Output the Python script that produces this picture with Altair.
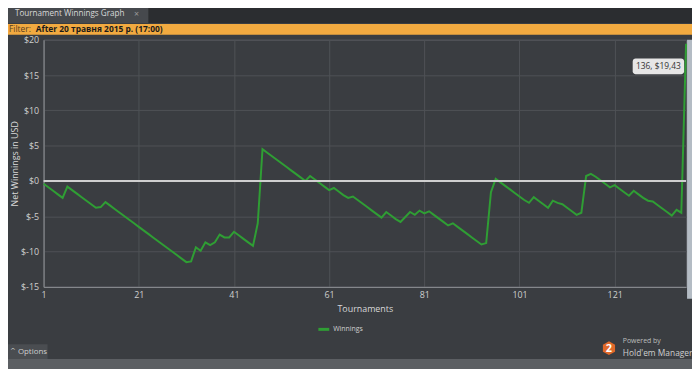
import altair as alt
import pandas as pd

# ---- data ----
tournaments = list(range(1, 137))
winnings = [
    -0.4, -0.9, -1.4, -1.9, -2.4, -0.8, -1.3, -1.8, -2.3, -2.8,
    -3.3, -3.8, -3.7, -3.0, -3.5, -4.0, -4.5, -5.0, -5.5, -6.0,
    -6.5, -7.0, -7.5, -8.0, -8.5, -9.0, -9.5, -10.0, -10.5, -11.0,
    -11.5, -11.4, -9.4, -9.9, -8.7, -9.1, -8.7, -7.6, -8.0, -8.0,
    -7.2, -7.7, -8.2, -8.7, -9.2, -6.0, 4.5, 4.0, 3.5, 3.0,
    2.5, 2.0, 1.5, 1.0, 0.5, 0.0, 0.7, 0.2, -0.3, -0.8,
    -1.3, -1.0, -1.5, -2.0, -2.4, -2.2, -2.7, -3.2, -3.7, -4.2,
    -4.7, -5.2, -4.4, -4.9, -5.4, -5.8, -5.1, -4.4, -4.8, -4.2,
    -4.6, -4.3, -4.8, -5.3, -5.8, -6.3, -6.0, -6.5, -7.0, -7.5,
    -8.0, -8.5, -9.0, -8.8, -1.6, 0.3, -0.2, -0.7, -1.2, -1.7,
    -2.2, -2.7, -3.1, -2.3, -2.8, -3.3, -3.8, -2.8, -3.1, -3.3,
    -3.8, -4.3, -4.8, -4.5, 0.7, 1.0, 0.6, 0.1, -0.4, -0.9,
    -0.6, -1.1, -1.6, -2.1, -1.4, -1.9, -2.4, -2.8, -2.9, -3.4,
    -3.9, -4.4, -4.9, -4.1, -4.5, 19.43,
]
x_ticks = [1, 21, 41, 61, 81, 101, 121]
y_ticks = [-15, -10, -5, 0, 5, 10, 15, 20]
series_name = "Winnings"
tab_title = "Tournament Winnings Graph"
filter_label = "Filter:"
filter_value = "After 20 травня 2015 р. (17:00)"
tooltip_text = "136, $19,43"

df = pd.DataFrame({"t": tournaments, "w": winnings})
one = pd.DataFrame({"k": [0]})

FONT = "Open Sans"
BG = "#3a3d41"

y_scale = alt.Scale(domain=[-15, 20], nice=False)
y_axis = alt.Axis(values=y_ticks, title="Net Winnings in USD",
                  labelExpr="'$' + datum.value", labelPadding=5,
                  labelOverlap=False, labelFlush=False,
                  titleX=-29, titleY=125, titleBaseline="middle")

line = alt.Chart(df).mark_line(color="#2f9e34", strokeWidth=2).encode(
    x=alt.X("t:Q", scale=alt.Scale(domain=[1, 136], nice=False, zero=False),
            axis=alt.Axis(values=x_ticks, title="Tournaments", grid=True,
                          labelPadding=4, titleY=22, titleBaseline="middle",
                          labelOverlap=False, labelFlush=False)),
    y=alt.Y("w:Q", scale=y_scale, axis=y_axis),
)

zero_rule = alt.Chart(pd.DataFrame({"w": [0]})).mark_rule(
    color="#cfcfcf", strokeWidth=2).encode(y=alt.Y("w:Q", scale=y_scale, axis=y_axis))

def rect(x1, x2, y1, y2, color, **kw):
    return alt.Chart(one).mark_rect(color=color, **kw).encode(
        x=alt.value(x1), x2=alt.value(x2), y=alt.value(y1), y2=alt.value(y2))

def text(x, y, s, font=FONT, **kw):
    return alt.Chart(pd.DataFrame({"s": [s]})).mark_text(
        font=font, baseline="middle", **kw).encode(
        x=alt.value(x), y=alt.value(y), text="s:N")

tabbar = rect(-44, 660, -38, -17, "#2b2d30")
tab = rect(-40, 106, -35, -17, "#46494d")
tab_t = text(-29, -26, tab_title, align="left", fontSize=8.2, color="#d8d8d8")
tab_x = text(94, -26, "×", align="center", fontSize=9, color="#9a9a9a")
filt = rect(-44, 660, -16, -5, "#f2aa40")
filt_t1 = text(-35, -10.5, filter_label, align="left", fontSize=8.5, color="#5a4020")
filt_t2 = text(-8, -10.5, filter_value, align="left", fontSize=8.5, color="#1a1a1a", fontWeight="bold")
right_strip = rect(651, 660, 0, 262, "#b4bcc4")
tip = rect(596, 648, 19, 35, "#e6e6e6", cornerRadius=3)
tip_t = text(622, 27, tooltip_text, align="center", fontSize=8.5, color="#333333")
leg_line = alt.Chart(one).mark_rule(color="#2f9e34", strokeWidth=3).encode(
    x=alt.value(278), x2=alt.value(289), y=alt.value(293))
leg_t = text(293, 293, series_name, align="left", fontSize=7, color="#d0d0d0")
opt = rect(-44, 4, 308, 323, "#4a4d51")
opt_c = text(-34, 315, "^", align="left", fontSize=7, color="#cfcfcf", font="DejaVu Sans")
opt_t = text(-26, 315.5, "Options", align="left", fontSize=8, color="#cfcfcf")
bottom = rect(-44, 660, 323, 335, "#5c5f63")
logo = alt.Chart(one).mark_point(shape="M0,-1L0.87,-0.5L0.87,0.5L0,1L-0.87,0.5L-0.87,-0.5Z",
                                 filled=True, color="#e0692a", size=200, opacity=1).encode(
    x=alt.value(572), y=alt.value(312))
logo_t = text(572, 312.5, "2", align="center", fontSize=11, color="white", fontWeight="bold")
pw_t = text(586, 305, "Powered by", align="left", fontSize=7, color="#bdbdbd")
hm_t = text(586, 317, "Hold'em Manager", align="left", fontSize=8.5, color="#cfcfcf")

chart = alt.layer(
    tabbar, tab, tab_t, tab_x, filt, filt_t1, filt_t2, right_strip,
    line, zero_rule, tip, tip_t, leg_line, leg_t, opt, opt_c, opt_t, bottom,
    logo, logo_t, pw_t, hm_t,
).properties(
    width=650, height=250,
    autosize=alt.AutoSizeParams(type="none"),
    padding={"left": 36, "top": 30, "right": 6, "bottom": 81},
    background=BG,
).configure_view(
    stroke="#5a5d61", fill=BG,
).configure_axis(
    labelColor="#cfcfcf", labelFont=FONT, labelFontSize=9,
    titleColor="#d8d8d8", titleFont=FONT, titleFontSize=9, titleFontWeight="normal",
    domainColor="#8f9296", gridColor="#4f5256", ticks=False, labelOverlap=False,
)

chart.save("out.html", embed_options={"renderer": "svg", "actions": False})
